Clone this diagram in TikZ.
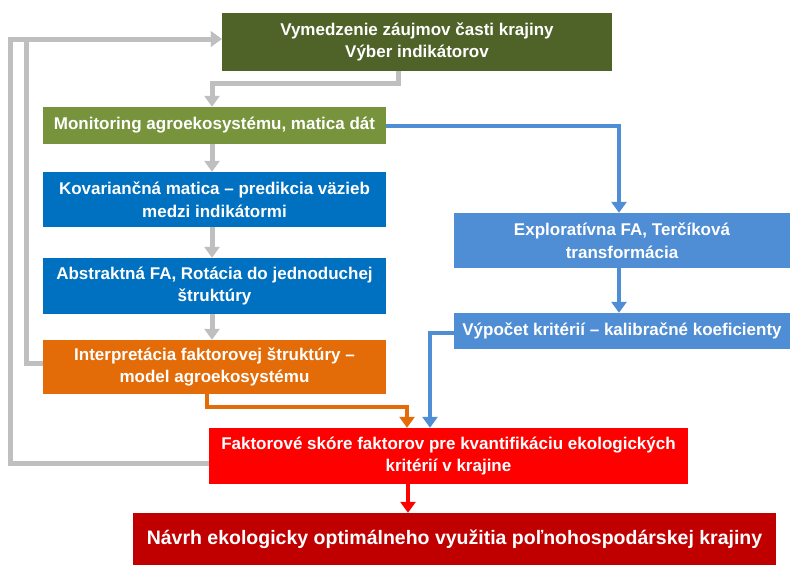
\documentclass[tikz,border=0pt]{standalone}
\usepackage{fontspec}
\setmainfont{Liberation Sans}
\usepackage{tikz}
\usepackage{xcolor}
\usetikzlibrary{arrows.meta,positioning}
\definecolor{agrdark}{RGB}{79,98,40}
\definecolor{agrolive}{RGB}{119,147,60}
\definecolor{agrblue}{RGB}{0,112,192}
\definecolor{agrsky}{RGB}{79,141,212}
\definecolor{agrorange}{RGB}{227,108,9}
\definecolor{agrred}{RGB}{255,0,0}
\definecolor{agrwine}{RGB}{192,0,0}
\definecolor{agrgray}{RGB}{191,191,191}

\begin{document}
\begin{tikzpicture}[x=1pt,y=-1pt,
  box/.style={rectangle,inner sep=0pt,text=white,align=center,
    font=\fontsize{17}{22.5}\selectfont\bfseries},
  flow/.style={line width=4pt,-{Triangle[width=15pt,length=11pt]}},
  grayflow/.style={flow,line width=5pt,agrgray}]
  \useasboundingbox (0,0) rectangle (790,565);

  \node[box,fill=agrdark,minimum width=390pt,minimum height=58pt] (scope) at (417,42)
    {Vymedzenie záujmov časti krajiny\\Výber indikátorov};
  \node[box,fill=agrolive,minimum width=343pt,minimum height=37pt] (monit) at (214.5,125.5)
    {Monitoring agroekosystému, matica dát};
  \node[box,fill=agrblue,minimum width=343pt,minimum height=55pt] (covar) at (214.5,199.5)
    {Kovariančná matica – predikcia väzieb\\medzi indikátormi};
  \node[box,fill=agrblue,minimum width=343pt,minimum height=56pt] (abstr) at (214.5,286)
    {Abstraktná FA, Rotácia do jednoduchej\\štruktúry};
  \node[box,fill=agrorange,minimum width=343pt,minimum height=54pt] (interp) at (214.5,367)
    {Interpretácia faktorovej štruktúry –\\model agroekosystému};
  \node[box,fill=agrsky,minimum width=336pt,minimum height=55pt] (explor) at (622,240.5)
    {Exploratívna FA, Terčíková\\transformácia};
  \node[box,fill=agrsky,minimum width=336pt,minimum height=36pt] (calib) at (622,331)
    {Výpočet kritérií – kalibračné koeficienty};
  \node[box,fill=agrred,minimum width=479pt,minimum height=56pt] (score) at (448.5,456)
    {Faktorové skóre faktorov pre kvantifikáciu ekologických\\kritérií v krajine};
  \node[box,fill=agrwine,minimum width=643pt,minimum height=52pt,
    font=\fontsize{19.5}{24}\selectfont\bfseries] (design) at (454.5,539)
    {Návrh ekologicky optimálneho využitia poľnohospodárskej krajiny};

  % gray main line
  \draw[grayflow] ([xshift=-19pt]scope.south) -- ++(0,12) -| ([xshift=-2.5pt]monit.north);
  \draw[grayflow] ([xshift=-2.5pt]monit.south) -- ([xshift=-2.5pt]covar.north);
  \draw[grayflow] ([xshift=-2.5pt]covar.south) -- ([xshift=-2.5pt]abstr.north);
  \draw[grayflow] ([xshift=-2.5pt]abstr.south) -- ([xshift=-2.5pt]interp.north);

  % feedback loops
  \draw[grayflow] ([yshift=-7pt]score.west) -- ++(-198,0) |- ([yshift=3pt]scope.west);
  \draw[grayflow] ([yshift=4pt]interp.west) -- ++(-16,0) |- ([yshift=3pt]scope.west);

  % blue branch
  \draw[flow,agrsky] (monit.east) -| ([xshift=-3pt]explor.north);
  \draw[flow,agrsky] ([xshift=-3pt]explor.south) -- ([xshift=-3pt]calib.north);
  \draw[flow,agrsky] ([yshift=-1.5pt]calib.west) -| ([xshift=-18.5pt]score.north);

  \draw[flow,agrorange] ([xshift=-7.5pt]interp.south) -- ++(0,13) -| ([xshift=-41.5pt]score.north);
  \draw[flow,agrred] ([xshift=-40.5pt]score.south) -- ([xshift=-40.5pt]score.south |- design.north);
\end{tikzpicture}
\end{document}
